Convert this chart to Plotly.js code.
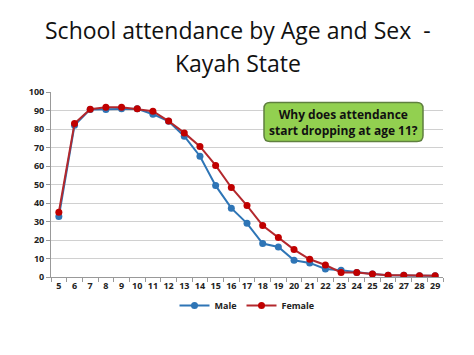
<!DOCTYPE html>
<html><head><meta charset="utf-8">
<script src="https://cdn.plot.ly/plotly-3.0.1.min.js"></script>
<style>html,body{margin:0;padding:0;background:#fff}#c{width:474px;height:355px}</style>
</head><body><div id="c"></div>
<script>
const ages = [5,6,7,8,9,10,11,12,13,14,15,16,17,18,19,20,21,22,23,24,25,26,27,28,29];
const male = [32.7,82,90.6,90.6,90.9,90.9,88,84.2,76.1,65.3,49.4,37.2,29,18.1,16.2,9,7.6,4.3,3.6,2.4,1.6,0.9,1,0.7,0.7];
const female = [35,83,90.7,91.7,91.8,90.9,89.6,84.3,77.9,70.6,60.3,48.4,38.6,27.8,21.3,14.8,9.6,6.5,2.5,2.4,1.6,0.9,1,0.7,0.7];
const yTicks = [0,10,20,30,40,50,60,70,80,90,100];
const titleLines = ["School attendance by Age and Sex  -", "Kayah State"];
const noteText = "Why does attendance<br>start dropping at age 11?";

const traces = [
  {x: ages, y: male, name: "Male", type: "scatter", mode: "lines+markers",
   line: {color: "#2e75b6", width: 2}, marker: {color: "#2e75b6", size: 7}},
  {x: ages, y: female, name: "Female", type: "scatter", mode: "lines+markers",
   line: {color: "#b3282d", width: 2}, marker: {color: "#c00000", size: 7}}
];
const PW = 392, PH = 185;
const x0 = (264-51)/PW, x1 = (423-51)/PW, y0 = (277-141.5)/PH, y1 = (277-102.5)/PH;
const rx = 6/PW, ry = 6/PH;
const path = `M ${x0+rx},${y0} L ${x1-rx},${y0} Q ${x1},${y0} ${x1},${y0+ry} L ${x1},${y1-ry} Q ${x1},${y1} ${x1-rx},${y1} L ${x0+rx},${y1} Q ${x0},${y1} ${x0},${y1-ry} L ${x0},${y0+ry} Q ${x0},${y0} ${x0+rx},${y0} Z`;
const titleFont = {family: "Open Sans, sans-serif", size: 23, color: "#111"};
const layout = {
  width: 474, height: 355,
  margin: {l: 51, r: 31, t: 92, b: 78},
  paper_bgcolor: "#fff", plot_bgcolor: "#fff",
  font: {family: "Open Sans, sans-serif", color: "#222"},
  xaxis: {range: [4.5, 29.5], tickvals: ages, ticktext: ages.map(String), ticks: "",
          showgrid: false, zeroline: false, showline: true, linecolor: "#999", linewidth: 1,
          tickfont: {size: 9, color: "#222", family: "Open Sans, sans-serif", weight: "bold"},
          minor: {ticks: "outside", tick0: 4.5, dtick: 1, ticklen: 4, tickcolor: "#999", showgrid: false}},
  yaxis: {range: [0, 100], tickvals: yTicks, showgrid: true, gridcolor: "#d0d0d0", gridwidth: 1,
          zeroline: false, showline: true, linecolor: "#999", ticks: "outside", ticklen: 4, tickcolor: "#999",
          tickfont: {size: 9, color: "#222", family: "Open Sans, sans-serif", weight: "bold"}},
  showlegend: true,
  legend: {orientation: "h", x: 0.5, xanchor: "center", y: -0.075, yanchor: "top",
           itemwidth: 30, tracegroupgap: 0,
           font: {size: 9, family: "Open Sans, sans-serif", color: "#222", weight: "bold"}},
  shapes: [{type: "path", xref: "paper", yref: "paper", path: path,
            fillcolor: "#92d050", line: {color: "#5f7f3f", width: 1.5}}],
  annotations: [
    {xref: "paper", yref: "paper", x: (x0+x1)/2, y: (y0+y1)/2, text: noteText,
     showarrow: false, xanchor: "center", yanchor: "middle", align: "center",
     font: {size: 12, family: "Open Sans, sans-serif", color: "#111", weight: "bold"}},
    {xref: "paper", yref: "paper", x: (238-51)/PW, y: (277-30)/PH, text: titleLines[0],
     showarrow: false, xanchor: "center", yanchor: "middle", font: titleFont},
    {xref: "paper", yref: "paper", x: (238-51)/PW, y: (277-63)/PH, text: titleLines[1],
     showarrow: false, xanchor: "center", yanchor: "middle", font: titleFont}
  ]
};
Plotly.newPlot("c", traces, layout, {displayModeBar: false, staticPlot: true});
</script></body></html>
